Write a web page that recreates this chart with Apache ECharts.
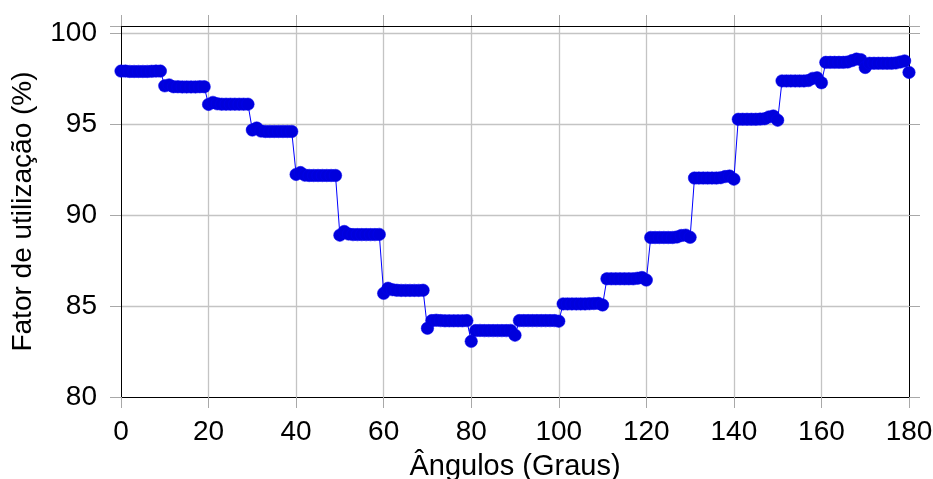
<!DOCTYPE html>
<html>
<head>
<meta charset="utf-8">
<script src="https://cdn.jsdelivr.net/npm/echarts@6/dist/echarts.min.js"></script>
<style>html,body{margin:0;padding:0;background:#fff}#c{width:933px;height:479px}</style>
</head>
<body>
<div id="c"></div>
<script>
const angles = [0,1,2,3,4,5,6,7,8,9,10,11,12,13,14,15,16,17,18,19,20,21,22,23,24,25,26,27,28,29,30,31,32,33,34,35,36,37,38,39,40,41,42,43,44,45,46,47,48,49,50,51,52,53,54,55,56,57,58,59,60,61,62,63,64,65,66,67,68,69,70,71,72,73,74,75,76,77,78,79,80,81,82,83,84,85,86,87,88,89,90,91,92,93,94,95,96,97,98,99,100,101,102,103,104,105,106,107,108,109,110,111,112,113,114,115,116,117,118,119,120,121,122,123,124,125,126,127,128,129,130,131,132,133,134,135,136,137,138,139,140,141,142,143,144,145,146,147,148,149,150,151,152,153,154,155,156,157,158,159,160,161,162,163,164,165,166,167,168,169,170,171,172,173,174,175,176,177,178,179,180];
const fatorUtilizacao = [
  97.92,97.92,97.90,97.90,97.90,97.90,97.90,97.91,97.92,97.92,
  97.11,97.16,97.06,97.06,97.05,97.05,97.05,97.05,97.06,97.06,
  96.09,96.20,96.12,96.10,96.10,96.10,96.10,96.10,96.10,96.10,
  94.68,94.79,94.62,94.60,94.60,94.60,94.60,94.60,94.60,94.60,
  92.24,92.34,92.20,92.18,92.18,92.18,92.18,92.18,92.18,92.18,
  88.90,89.10,88.96,88.93,88.93,88.93,88.93,88.93,88.93,88.94,
  85.70,85.98,85.90,85.87,85.86,85.86,85.86,85.86,85.86,85.87,
  83.78,84.20,84.22,84.20,84.19,84.19,84.19,84.19,84.19,84.20,
  83.06,83.65,83.66,83.65,83.65,83.65,83.65,83.65,83.65,83.66,
  83.40,84.20,84.20,84.20,84.20,84.20,84.20,84.20,84.20,84.20,
  84.17,85.12,85.12,85.12,85.12,85.12,85.12,85.13,85.14,85.15,
  85.06,86.50,86.50,86.50,86.50,86.50,86.50,86.50,86.53,86.57,
  86.43,88.77,88.77,88.77,88.77,88.77,88.77,88.80,88.88,88.90,
  88.78,92.04,92.04,92.04,92.04,92.04,92.04,92.06,92.12,92.15,
  91.98,95.27,95.27,95.27,95.27,95.27,95.28,95.30,95.40,95.45,
  95.22,97.38,97.38,97.38,97.38,97.38,97.38,97.40,97.52,97.55,
  97.28,98.40,98.40,98.40,98.40,98.40,98.42,98.50,98.58,98.55,
  98.12,98.35,98.35,98.35,98.35,98.35,98.35,98.37,98.42,98.48,
  97.85
];
const xTicks = [0,20,40,60,80,100,120,140,160,180];
const yTicks = [80,85,90,95,100];
const xTitle = 'Ângulos (Graus)';
const yTitle = 'Fator de utilização (%)';

const FONT = 'Liberation Sans';
const chart = echarts.init(document.getElementById('c'), null, {renderer: 'canvas'});
const tickStyle = {show: true, inside: false, length: 11, lineStyle: {color: '#a8a8a8', width: 1}};
const gridLine = {show: true, showMinLine: false, showMaxLine: false, lineStyle: {color: '#c4c4c4', width: 1.3}};
const axisLineStyle = {show: true, onZero: false, lineStyle: {color: '#000', width: 1}};
const yFmt = v => (yTicks.indexOf(Math.round(v * 100) / 100) >= 0 ? String(v) : '');
const xFmt = v => (xTicks.indexOf(v) >= 0 ? String(v) : '');
chart.setOption({
  animation: false,
  backgroundColor: '#fff',
  grid: {left: 121, right: 24, top: 26, bottom: 82, containLabel: false, outerBoundsMode: 'none'},
  xAxis: [{
    type: 'value', min: 0, max: 180, interval: 20, position: 'bottom',
    axisLine: axisLineStyle, axisTick: tickStyle,
    splitLine: gridLine,
    axisLabel: {formatter: xFmt, color: '#000', fontFamily: FONT, fontSize: 28, margin: 21},
    name: xTitle, nameLocation: 'middle', nameGap: 55,
    nameTextStyle: {color: '#000', fontFamily: FONT, fontSize: 29}
  }, {
    type: 'value', min: 0, max: 180, interval: 20, position: 'top',
    axisLine: axisLineStyle, axisTick: tickStyle,
    splitLine: {show: false}, axisLabel: {show: false}
  }],
  yAxis: [{
    type: 'value', min: 80, max: 100.4, interval: 5, position: 'left',
    axisLine: axisLineStyle, axisTick: tickStyle,
    splitLine: gridLine,
    axisLabel: {formatter: yFmt, color: '#000', fontFamily: FONT, fontSize: 28, margin: 24},
    name: yTitle, nameLocation: 'middle', nameGap: 84, nameRotate: 90,
    nameTextStyle: {color: '#000', fontFamily: FONT, fontSize: 28}
  }, {
    type: 'value', min: 80, max: 100.4, interval: 5, position: 'right',
    axisLine: axisLineStyle, axisTick: tickStyle,
    splitLine: {show: false}, axisLabel: {show: false}
  }],
  series: [{
    type: 'line',
    xAxisIndex: 0, yAxisIndex: 0,
    data: angles.map((a, i) => [a, fatorUtilizacao[i]]),
    symbol: 'circle', symbolSize: 12.5, showAllSymbol: true,
    lineStyle: {color: '#0000ff', width: 1},
    itemStyle: {color: '#0000dc', borderColor: '#0000f0', borderWidth: 0.5},
    clip: false
  }]
});
</script>
</body>
</html>
